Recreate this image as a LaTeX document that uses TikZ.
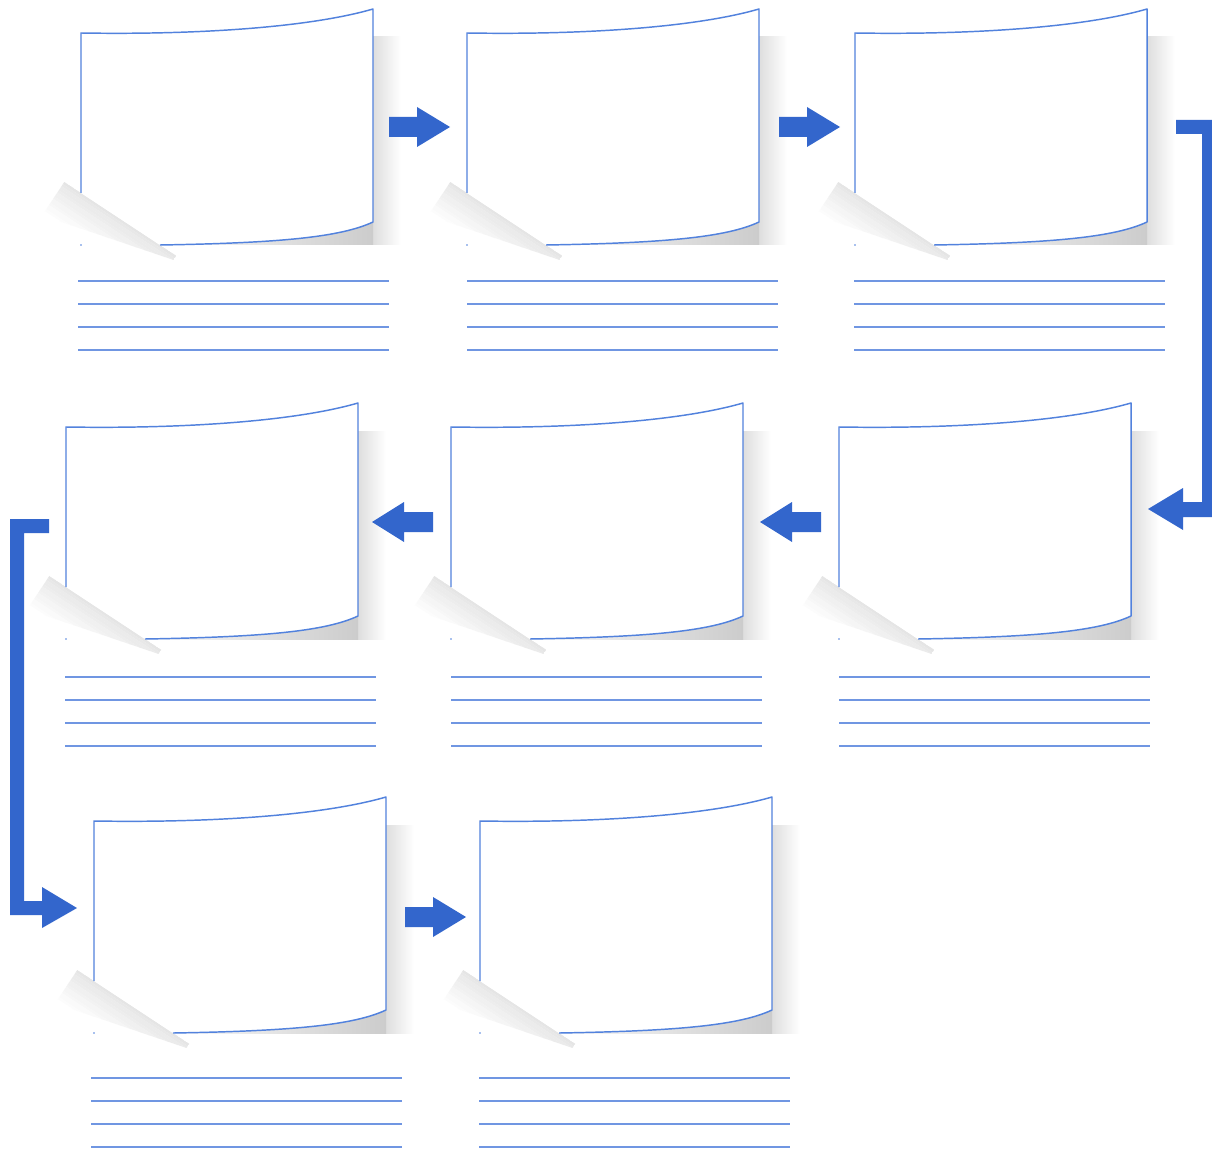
\documentclass[tikz,border=0pt]{standalone}
\definecolor{arrowblue}{HTML}{3366CC}
\definecolor{edgeblue}{HTML}{5282DD}
\definecolor{ruleblue}{HTML}{7096E2}
\tikzset{
  cardedge/.style={draw=edgeblue, line width=1.1pt, line join=round},
  ruleline/.style={draw=ruleblue, line width=1.1pt},
  blockarrow/.style={fill=arrowblue},
  papercard/.pic={
    \shade[left color=black!13, right color=white] (292,28) rectangle (320,236);
    \shade[left color=black!2, right color=black!20] (79,200) rectangle (292,236);
    \begin{scope}[shift={(0,184)}, rotate=-33.4]
      \clip (-20,0) -- (114,0) -- (114,5) -- (-20,40) -- cycle;
      \foreach \k in {0,...,15} {
        \pgfmathtruncatemacro\g{10-0.65*\k}
        \fill[black!\g] (-20,\k*2.5) rectangle (114,\k*2.5+2.6);
      }
    \end{scope}
    \fill[white] (0,184) -- (0,24) .. controls (120,26) and (230,18) .. (292,0) -- (292,213) .. controls (260,228) and (200,234) .. (79,236) -- cycle;
    \draw[cardedge] (0,184) -- (0,24) .. controls (120,26) and (230,18) .. (292,0) -- (292,213) .. controls (260,228) and (200,234) .. (79,236);
    \fill[edgeblue] (0,236) circle (0.9);
  }
}
\begin{document}
\begin{tikzpicture}[x=0.75pt,y=-0.75pt]
\fill[white] (0,0) rectangle (1212,1151);
\useasboundingbox (0,0) rectangle (1212,1151);
% cards
\pic (c1) at (81,9) {papercard};
\pic (c2) at (467,9) {papercard};
\pic (c3) at (855,9) {papercard};
\pic (c4) at (66,403) {papercard};
\pic (c5) at (451,403) {papercard};
\pic (c6) at (839,403) {papercard};
\pic (c7) at (94,797) {papercard};
\pic (c8) at (480,797) {papercard};
% text lines
\foreach \lx/\ly in {78/281, 467/281, 854/281, 65/677, 451/677, 839/677, 91/1078, 479/1078}
  \foreach \j in {0,...,3}
    \draw[ruleline] (\lx,\ly+\j*23) -- ++(311,0);
% right arrows
\coordinate (a12) at (389,127);
\coordinate (a23) at (779,127);
\coordinate (a78) at (405,917);
\foreach \a in {a12,a23,a78}
  \fill[blockarrow] (\a) ++(0,-10) -- ++(28,0) -- ++(0,-10) -- ++(33,20) -- ++(-33,20) -- ++(0,-10) -- ++(-28,0) -- cycle;
% left arrows
\coordinate (a54) at (372,522);
\coordinate (a65) at (760,522);
\foreach \a in {a54,a65}
  \fill[blockarrow] (\a) -- ++(32,-20) -- ++(0,10) -- ++(29,0) -- ++(0,20) -- ++(-29,0) -- ++(0,10) -- cycle;
% bent arrow 3 -> 6
\coordinate (b36) at (1176,120);
\fill[blockarrow] (b36) -- (1212,120) -- (1212,517) -- (1183,517) -- (1183,530) -- (1148,509) -- (1183,488) -- (1183,502) -- (1202,502) -- (1202,134) -- (1176,134) -- cycle;
% bent arrow 4 -> 7
\coordinate (b47) at (49,519);
\fill[blockarrow] (b47) -- (10,519) -- (10,915) -- (42,915) -- (42,928) -- (77,908) -- (42,887) -- (42,901) -- (24,901) -- (24,533) -- (49,533) -- cycle;
\end{tikzpicture}
\end{document}
